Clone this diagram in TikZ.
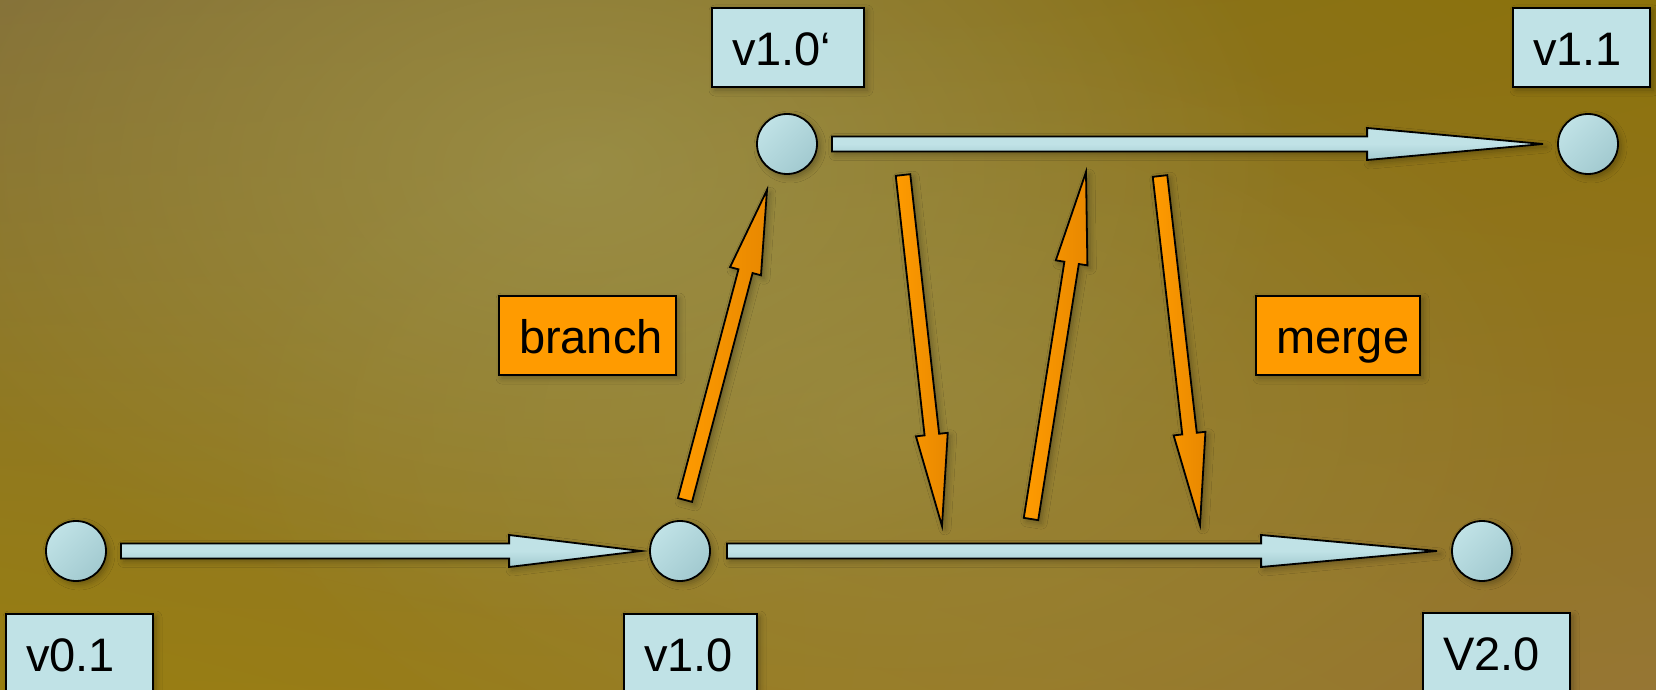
\documentclass[tikz,border=0pt]{standalone}
\usepackage{fontspec}
\setmainfont{Liberation Sans}
\usetikzlibrary{calc,fadings,shadings,shadows.blur}

\definecolor{bgUL}{RGB}{132,112,56}
\definecolor{bgUR}{RGB}{140,114,10}
\definecolor{bgLL}{RGB}{152,126,16}
\definecolor{bgLR}{RGB}{150,118,52}
\definecolor{haze}{RGB}{158,148,78}
\definecolor{verblue}{RGB}{192,226,230}
\definecolor{verblueD}{RGB}{162,202,208}
\definecolor{flow}{RGB}{255,155,0}
\definecolor{flowD}{RGB}{232,136,0}

\tikzfading[name=softspot, inner color=transparent!0, outer color=transparent!100]

% fat block arrow: style, tail, tip, shaft half width, head half width, head length
\newcommand{\blockarrow}[6]{%
  \path ($(#3)!#6!(#2)$) coordinate (ba-base);
  \draw[#1] ($(#2)!#4!90:(#3)$) -- ($(ba-base)!#4!90:(#3)$)
    -- ($(ba-base)!#5!90:(#3)$) -- (#3)
    -- ($(ba-base)!#5!-90:(#3)$) -- ($(ba-base)!#4!-90:(#3)$)
    -- ($(#2)!#4!-90:(#3)$) -- cycle;
}

\tikzset{
  soft/.style={blur shadow={shadow xshift=1.5pt, shadow yshift=-1.5pt,
      shadow blur radius=3pt, shadow opacity=30}},
  dot/.style={circle, draw=black, line width=0.9pt, minimum size=30pt,
      inner sep=0pt, top color=verblue, bottom color=verblueD,
      shading angle=45, soft},
  tag/.style={draw=black, line width=1pt, fill=verblue, anchor=north west,
      inner xsep=10pt, inner ysep=0pt, text height=28.75pt, text depth=10.75pt,
      align=left, font=\fontsize{23.5pt}{28pt}\selectfont, soft},
  acttag/.style={tag, fill=flow},
  blueflow/.style={draw=black, line width=0.9pt, line join=miter,
      top color=verblue, bottom color=verblueD, middle color=verblue, soft},
  orangeflow/.style={draw=black, line width=0.9pt, line join=miter,
      left color=flow, right color=flowD, soft},
}

\begin{document}
\begin{tikzpicture}[x=0.5pt, y=-0.5pt]
  \useasboundingbox (0,0) rectangle (1656,690);
  \clip (0,0) rectangle (1656,690);

  % backdrop
  \shade[upper left=bgUL, upper right=bgUR, lower left=bgLL, lower right=bgLR]
    (0,0) rectangle (1656,690);
  \fill[haze, opacity=0.75, path fading=softspot]
    (580,170) ellipse [x radius=720, y radius=460];
  \fill[haze, opacity=0.45, path fading=softspot]
    (900,420) ellipse [x radius=700, y radius=420];

  % versions
  \node[dot] (c01)  at (76,551)   {};
  \node[dot] (c10)  at (680,551)  {};
  \node[dot] (c20)  at (1482,551) {};
  \node[dot] (c10b) at (787,144)  {};
  \node[dot] (c11)  at (1588,144) {};

  % ends of the branch/merge arrows
  \coordinate (br-s) at (685,500);  \coordinate (br-e) at (767,190);
  \coordinate (m1-s) at (903,175);  \coordinate (m1-e) at (942,526);
  \coordinate (m2-s) at (1031,519); \coordinate (m2-e) at (1086,172);
  \coordinate (m3-s) at (1160,176); \coordinate (m3-e) at (1200,525);

  % main line arrows
  \coordinate (a1-s) at ($(c01.east)+(14,0)$);  \coordinate (a1-e) at ($(c10.west)+(-8,0)$);
  \coordinate (a2-s) at ($(c10.east)+(16,0)$);  \coordinate (a2-e) at ($(c20.west)+(-14,0)$);
  \coordinate (a3-s) at ($(c10b.east)+(14,0)$); \coordinate (a3-e) at ($(c11.west)+(-14,0)$);
  \blockarrow{blueflow}{a1-s}{a1-e}{3.75pt}{8pt}{66pt}
  \blockarrow{blueflow}{a2-s}{a2-e}{3.75pt}{8pt}{88pt}
  \blockarrow{blueflow}{a3-s}{a3-e}{3.75pt}{8pt}{88pt}

  % branch and merge arrows
  \blockarrow{orangeflow}{br-s}{br-e}{3.65pt}{8pt}{42pt}
  \blockarrow{orangeflow}{m1-s}{m1-e}{3.65pt}{8pt}{46pt}
  \blockarrow{orangeflow}{m2-s}{m2-e}{3.65pt}{8pt}{46pt}
  \blockarrow{orangeflow}{m3-s}{m3-e}{3.65pt}{8pt}{46pt}

  % version labels
  \node[tag, text width=53.5pt] (l01)  at (5,613)    {v0.1};
  \node[tag, text width=46.5pt] (l10)  at (623,613)  {v1.0};
  \node[tag, text width=53.5pt] (l20)  at (1422,612) {V2.0};
  \node[tag, text width=56pt]   (l10b) at (711,7)    {v1.0‘};
  \node[tag, text width=48.5pt] (l11)  at (1512,7)   {v1.1};

  % action labels
  \node[acttag, text width=68.5pt] (lbr) at (498,295)  {\mbox{branch}};
  \node[acttag, text width=62pt]   (lmg) at (1255,295) {\mbox{merge}};
\end{tikzpicture}
\end{document}
